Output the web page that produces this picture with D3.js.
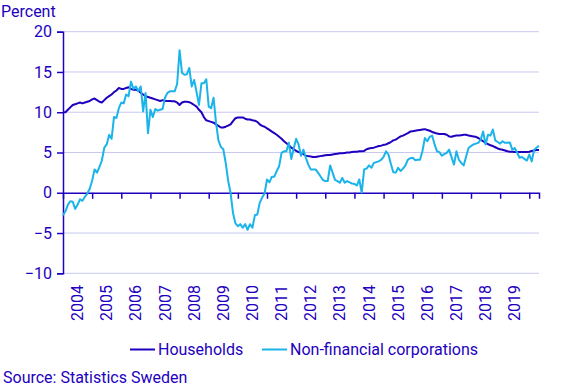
<!DOCTYPE html>
<html>
<head>
<meta charset="utf-8">
<script src="https://cdn.jsdelivr.net/npm/d3@7"></script>
<style>
  body { margin: 0; background: #fff; }
  svg text { font-family: Roboto, "Noto Sans", sans-serif; fill: #1e00be; }
</style>
</head>
<body>
<svg id="chart" width="567" height="388"></svg>
<script>
// monthly series, Jan 2004 onwards
const startYear = 2004;
const households = [
  10.0, 10.0, 10.3, 10.6, 10.9, 11.0, 11.1, 11.2, 11.1, 11.2, 11.3, 11.4,
  11.6, 11.7, 11.5, 11.3, 11.2, 11.5, 11.8, 12.0, 12.2, 12.5, 12.7, 13.0,
  12.9, 12.9, 13.0, 13.1, 12.9, 12.8, 12.8, 12.7, 12.4, 12.2, 12.0, 11.9,
  11.8, 11.7, 11.6, 11.5, 11.4, 11.5, 11.4, 11.4, 11.4, 11.35, 11.35, 11.2,
  10.9, 11.2, 11.3, 11.3, 11.25, 11.1, 10.9, 10.7, 10.3, 10.0, 9.4, 9.0,
  8.9, 8.8, 8.7, 8.5, 8.3, 8.1, 8.1, 8.2, 8.35, 8.5, 8.9, 9.25,
  9.35, 9.35, 9.35, 9.2, 9.1, 9.1, 9.0, 8.95, 8.8, 8.5, 8.3, 8.2,
  8.0, 7.8, 7.6, 7.4, 7.2, 6.95, 6.7, 6.4, 6.15, 5.9, 5.6, 5.4,
  5.2, 5.05, 4.95, 4.8, 4.6, 4.55, 4.5, 4.45, 4.45, 4.5, 4.55, 4.6,
  4.65, 4.7, 4.7, 4.75, 4.8, 4.85, 4.9, 4.9, 4.95, 5.0, 5.0, 5.05,
  5.1, 5.1, 5.15, 5.15, 5.2, 5.4, 5.5, 5.55, 5.6, 5.7, 5.8, 5.85,
  5.95, 6.0, 6.15, 6.3, 6.5, 6.6, 6.8, 7.0, 7.1, 7.25, 7.4, 7.6,
  7.65, 7.7, 7.75, 7.8, 7.85, 7.9, 7.8, 7.7, 7.55, 7.45, 7.35, 7.3,
  7.3, 7.3, 7.2, 7.0, 6.95, 7.05, 7.1, 7.1, 7.15, 7.2, 7.2, 7.1,
  7.05, 7.0, 6.95, 6.8, 6.6, 6.4, 6.2, 6.05, 5.9, 5.8, 5.65, 5.5,
  5.4, 5.35, 5.25, 5.15, 5.1, 5.1, 5.05, 5.05, 5.05, 5.05, 5.05, 5.05,
  5.1, 5.2, 5.25, 5.3, 5.3
];
const corporations = [
  -2.8, -2.3, -1.5, -1.05, -1.1, -2.0, -1.5, -0.8, -1.0, -0.5, -0.1, 0.5,
  1.5, 2.9, 2.5, 3.2, 4.0, 5.6, 6.0, 7.2, 6.7, 9.4, 9.3, 10.5,
  11.2, 11.1, 12.2, 12.0, 13.8, 12.9, 13.2, 12.6, 13.2, 10.1, 12.4, 7.4,
  10.3, 9.4, 10.4, 10.2, 10.3, 10.4, 11.8, 12.4, 12.6, 12.6, 12.6, 13.5,
  17.7, 14.9, 14.65, 14.7, 15.5, 13.2, 14.0, 12.5, 10.9, 13.6, 13.6, 14.1,
  10.7, 10.5, 11.8, 8.7, 6.5, 5.7, 5.4, 3.7, 1.5, 0.0, -2.5, -3.8,
  -4.15, -3.9, -4.35, -3.9, -4.6, -3.9, -4.35, -2.8, -2.7, -1.25, -0.6, -0.1,
  1.65, 1.3, 2.0, 2.0, 2.7, 3.3, 4.95, 5.15, 5.15, 6.2, 4.2, 5.5,
  6.7, 6.0, 4.6, 5.35, 4.35, 3.5, 2.9, 2.9, 2.9, 2.5, 2.05, 1.6,
  1.45, 1.45, 3.4, 2.5, 1.6, 1.45, 1.25, 1.85, 1.25, 1.45, 1.3, 1.15,
  1.1, 0.9, 1.65, 0.0, 2.9, 3.0, 3.4, 3.1, 3.7, 3.8, 3.9, 4.1,
  4.45, 5.15, 4.75, 3.6, 2.55, 2.5, 3.1, 2.7, 3.0, 3.4, 4.1, 4.3,
  4.35, 4.05, 4.1, 4.1, 5.15, 6.8, 6.4, 6.95, 7.1, 6.0, 5.15, 5.05,
  4.6, 4.8, 4.95, 5.35, 4.4, 3.5, 5.15, 4.1, 3.7, 3.4, 4.5, 5.55,
  5.8, 6.0, 6.1, 6.2, 6.6, 7.6, 6.0, 7.2, 7.1, 7.85, 6.5, 6.3,
  6.1, 6.4, 6.2, 6.2, 6.25, 5.35, 5.55, 5.0, 4.35, 4.45, 4.2, 4.0,
  4.75, 3.9, 5.35, 5.6, 5.85
];
const yearLabels = ['2004', '2005', '2006', '2007', '2008', '2009', '2010', '2011',
  '2012', '2013', '2014', '2015', '2016', '2017', '2018', '2019'];
const yTicks = [-10, -5, 0, 5, 10, 15, 20];
const seriesNames = ['Households', 'Non-financial corporations'];
const colors = ['#1e00be', '#1ab4ea'];

const svg = d3.select('#chart');
const left = 63, right = 539;

const endYear = startYear + (households.length - 1) / 12;
const x = d3.scaleLinear().domain([startYear, endYear]).range([left, right]);
const y = d3.scaleLinear().domain([-10, 20]).range([273.3, 31.7]);

// gridlines
svg.append('g')
  .selectAll('line')
  .data(yTicks.filter(d => d !== 0))
  .join('line')
  .attr('x1', left).attr('x2', right)
  .attr('y1', d => y(d)).attr('y2', d => y(d))
  .attr('stroke', '#c8c8f0')
  .attr('stroke-width', 1);

// y axis
const yAxis = svg.append('g')
  .attr('transform', `translate(${left},0)`)
  .call(d3.axisLeft(y).tickValues(yTicks).tickSize(6).tickPadding(5));
yAxis.select('.domain').attr('stroke', '#1e00be').attr('stroke-width', 1.5);
yAxis.selectAll('.tick line').attr('stroke', '#1e00be').attr('stroke-width', 1.5);
yAxis.selectAll('.tick text')
  .attr('font-size', 16)
  .style('fill', '#1e00be')
  .style('font-family', 'Roboto, sans-serif');

// zero line with year ticks
const yearTicks = d3.range(startYear + 1, Math.floor(endYear) + 1);
const xAxis = svg.append('g')
  .attr('transform', `translate(0,${y(0)})`)
  .call(d3.axisBottom(x).tickValues(yearTicks).tickSize(6).tickFormat(''));
xAxis.select('.domain').attr('stroke', '#1e00be').attr('stroke-width', 1.5);
xAxis.selectAll('.tick line').attr('stroke', '#1e00be').attr('stroke-width', 1.5);

// year labels, rotated, centred in each year
svg.append('g')
  .selectAll('text')
  .data(yearLabels)
  .join('text')
  .attr('transform', d => `translate(${x(+d + 0.5)},285) rotate(-90)`)
  .attr('text-anchor', 'end')
  .attr('dy', '0.35em')
  .attr('font-size', 16)
  .text(d => d);

// lines
const line = d3.line()
  .x((d, i) => x(startYear + i / 12))
  .y(d => y(d));

[households, corporations].forEach((s, k) => {
  svg.append('path')
    .datum(s)
    .attr('fill', 'none')
    .attr('stroke', colors[k])
    .attr('stroke-width', 2)
    .attr('stroke-linejoin', 'round')
    .attr('d', line);
});

// title of y axis
svg.append('text')
  .attr('x', 1).attr('y', 16.5)
  .attr('font-size', 16)
  .text('Percent');

// legend
const legendX = [130, 262];
const legend = svg.append('g')
  .selectAll('g')
  .data(seriesNames)
  .join('g')
  .attr('transform', (d, i) => `translate(${legendX[i]},349.5)`);
legend.append('line')
  .attr('x1', 0).attr('x2', 25)
  .attr('stroke', (d, i) => colors[i])
  .attr('stroke-width', 2);
legend.append('text')
  .attr('x', 28).attr('y', 5)
  .attr('font-size', 16)
  .text(d => d);

svg.append('text')
  .attr('x', 3).attr('y', 383)
  .attr('font-size', 16)
  .text('Source: Statistics Sweden');
</script>
</body>
</html>
